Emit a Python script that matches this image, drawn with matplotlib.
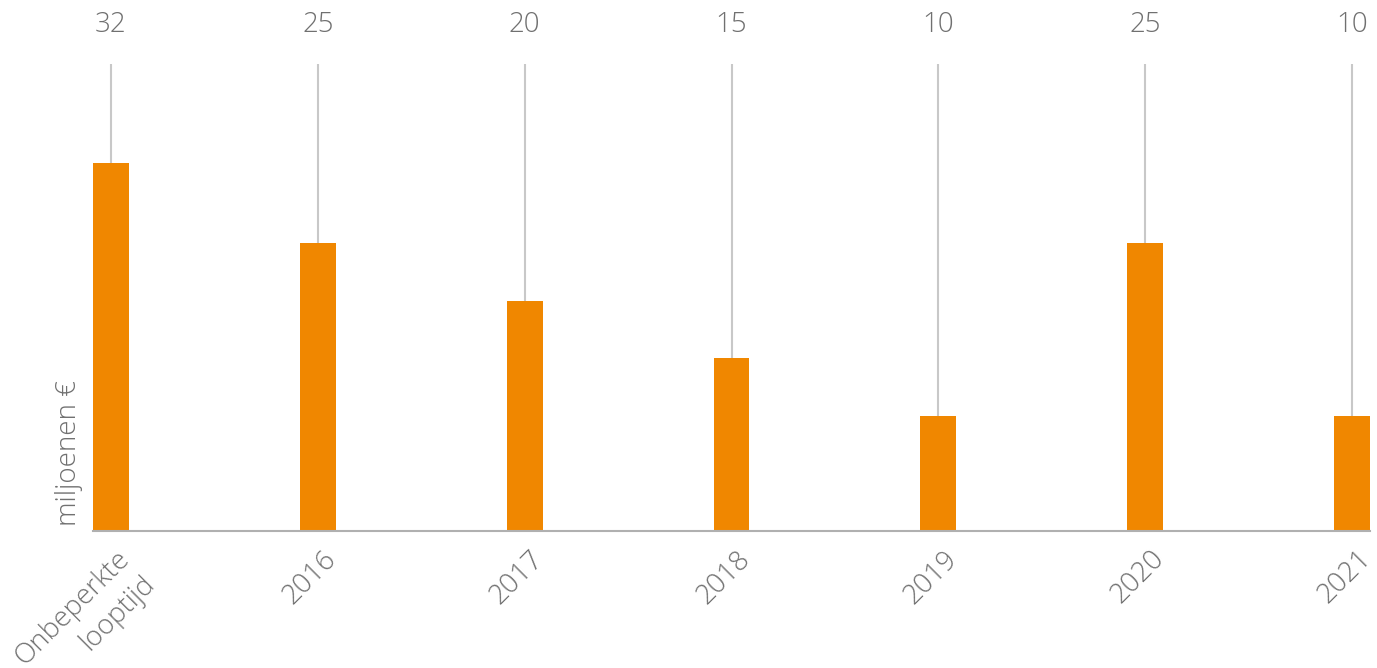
import matplotlib.pyplot as plt
import matplotlib.transforms as mtransforms

categories = ["Onbeperkte\nlooptijd", "2016", "2017", "2018", "2019", "2020", "2021"]
values = [32, 25, 20, 15, 10, 25, 10]

orange = "#f08700"
grey_text = "#707070"
grey_line = "#c8c8c8"

plt.rcParams['font.family'] = ['Open Sans', 'DejaVu Sans']
plt.rcParams['font.weight'] = 300

fig = plt.figure(figsize=(13.77, 6.68), dpi=100)
ax = fig.add_axes([93 / 1377, 1 - 531 / 668, 1277 / 1377, 467 / 668])

x = list(range(len(categories)))
ymax = 40.6

# guide lines from the top labels down to each bar
ax.vlines(x, values, ymax, color=grey_line, lw=1.5, zorder=1)
ax.bar(x, values, width=0.174, color=orange, zorder=2)

ax.set_xlim(-0.087, len(categories) - 1 + 0.087)
ax.set_ylim(0, ymax)

for xi, v in zip(x, values):
    ax.text(xi, 1.083, str(v), transform=ax.get_xaxis_transform(),
            ha='center', va='center', fontsize=20, color=grey_text, clip_on=False)

# rotated category labels, drawn by hand so they can be nudged
ax.set_xticks([])
offset = mtransforms.ScaledTranslation(5 / 100, -14 / 100, fig.dpi_scale_trans)
for xi, cat in zip(x, categories):
    ax.text(xi, 0, cat, transform=ax.get_xaxis_transform() + offset,
            rotation=45, rotation_mode='anchor', ha='right', va='top',
            multialignment='right', linespacing=1.35, fontsize=20,
            color=grey_text, clip_on=False)
ax.set_yticks([])

for s in ['top', 'right', 'left']:
    ax.spines[s].set_visible(False)
ax.spines['bottom'].set_color('#b0b0b0')
ax.spines['bottom'].set_linewidth(1.5)

ax.text(-0.0188, 0.01, "miljoenen €", transform=ax.transAxes, rotation=90,
        ha='center', va='bottom', fontsize=20, color=grey_text)

plt.savefig('out.png', dpi=100)
